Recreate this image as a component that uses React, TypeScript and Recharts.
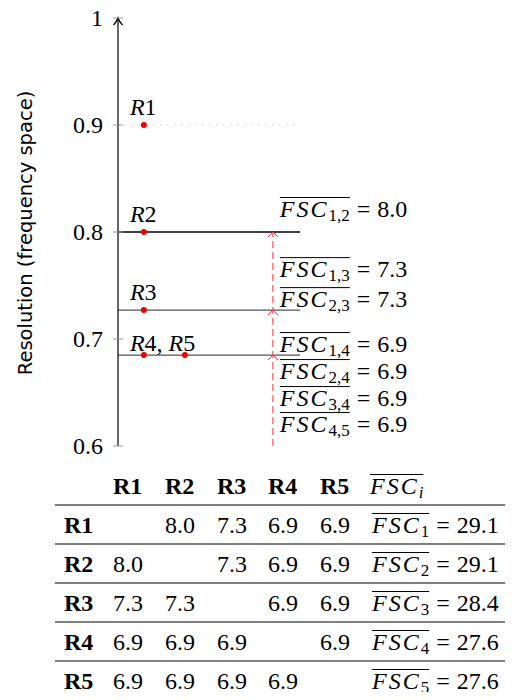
import React from 'react';
import { ComposedChart, XAxis, YAxis, Scatter, ReferenceLine } from 'recharts';

// ---------- data ----------
const resolutionNames = ['R1', 'R2', 'R3', 'R4', 'R5'];
const resolutionValues = [0.9, 0.8, 0.727, 0.685, 0.685];
const resolutionPositions = [1, 1, 1, 1, 2];
const pointLabels = ['R1', 'R2', 'R3', 'R4, R5', ''];
const yTicks = [0.6, 0.7, 0.8, 0.9, 1];
const levelValues = [0.8, 0.727, 0.685];
const pairGroups = [['1,2'], ['1,3', '2,3'], ['1,4', '2,4', '3,4', '4,5']];
const pairValues = [['8.0'], ['7.3', '7.3'], ['6.9', '6.9', '6.9', '6.9']];
const fscMatrix: (string | null)[][] = [
  [null, '8.0', '7.3', '6.9', '6.9'],
  ['8.0', null, '7.3', '6.9', '6.9'],
  ['7.3', '7.3', null, '6.9', '6.9'],
  ['6.9', '6.9', '6.9', null, '6.9'],
  ['6.9', '6.9', '6.9', '6.9', null],
];
const fscTotals = ['29.1', '29.1', '28.4', '27.6', '27.6'];

// ---------- layout ----------
const X_MIN = 0.37;
const X_MAX = 4.8;
const ARROW_X = 4.14;
const LABEL_X = 4.31;
const SERIF_NAME = 'Liberation Serif';
const SERIF = '"Liberation Serif", "DejaVu Serif", serif';
const SANS = '"DejaVu Sans", sans-serif';
const FS = 24;
const SUB = 17;
const FSC_SPACING = 2;
const pairDy = [[-15], [-33, -3], [-3, 24, 51, 77]];
const pointDy = [-10, -10, -10, -4, -10];
const levelStroke = ['#000', '#555', '#555'];
const levelWidth = [1.3, 1.2, 1.2];

let measureCtx: CanvasRenderingContext2D | null = null;
const measure = (text: string, font: string) => {
  if (!measureCtx) measureCtx = document.createElement('canvas').getContext('2d');
  if (!measureCtx) return text.length * 10;
  measureCtx.font = font;
  return measureCtx.measureText(text).width;
};

const pointData = resolutionNames.map((n, i) => ({
  name: n,
  x: resolutionPositions[i],
  y: resolutionValues[i],
  label: pointLabels[i],
  dy: pointDy[i],
}));
const chevronData = levelValues.map((v) => ({ x: ARROW_X, y: v }));
const pairData = levelValues.flatMap((v, g) =>
  pairGroups[g].map((p, k) => ({ x: LABEL_X, y: v, sub: p, value: pairValues[g][k], dy: pairDy[g][k] }))
);
const axisTop = [{ x: X_MIN, y: 1 }];

const FscText = ({ x, y, sub, value, italicSub = false }: any) => {
  const wMain = measure('FSC', `italic ${FS}px "${SERIF_NAME}"`) + 3 * FSC_SPACING;
  const wSub = measure(sub, `${italicSub ? 'italic ' : ''}${SUB}px "${SERIF_NAME}"`);
  const w = wMain + wSub;
  return (
    <g>
      <line x1={x} x2={x + w} y1={y - 19.5} y2={y - 19.5} stroke="#000" strokeWidth={1} />
      <text x={x} y={y} fontFamily={SERIF} fontSize={FS} fill="#000">
        <tspan fontStyle="italic" letterSpacing={FSC_SPACING}>FSC</tspan>
        <tspan fontSize={SUB} dy={4} fontStyle={italicSub ? 'italic' : 'normal'}>{sub}</tspan>
        {value !== undefined ? (
          <>
            <tspan dy={-4} dx={7}>=</tspan>
            <tspan dx={7}>{value}</tspan>
          </>
        ) : null}
      </text>
    </g>
  );
};

const MathLabel = ({ x, y, label }: any) => (
  <text x={x} y={y} fontFamily={SERIF} fontSize={FS} fill="#000">
    {label.split('').map((ch: string, i: number) => (
      <tspan key={i} fontStyle={/[A-Za-z]/.test(ch) ? 'italic' : 'normal'}>
        {ch}
      </tspan>
    ))}
  </text>
);

const YTick = (props: any) => {
  const { x, y, payload } = props;
  return (
    <g>
      <line x1={x + 10} x2={x + 20} y1={y} y2={y} stroke="#9a9a9a" strokeWidth={1} />
      <text x={x} y={y} dy="0.35em" textAnchor="end" fontFamily={SERIF} fontSize={FS} fill="#000">
        {String(payload.value)}
      </text>
    </g>
  );
};

const YTitle = () => (
  <text
    x={32}
    y={233}
    transform="rotate(-90, 32, 233)"
    textAnchor="middle"
    fontFamily={SANS}
    fontSize={19.5}
    fill="#000"
  >
    Resolution (frequency space)
  </text>
);

const PointShape = (props: any) => {
  const { cx, cy, payload } = props;
  return (
    <g>
      <circle cx={cx} cy={cy} r={3} fill="#ee0000" />
      {payload.label ? <MathLabel x={cx - 14} y={cy + payload.dy} label={payload.label} /> : null}
    </g>
  );
};

const ChevronShape = (props: any) => {
  const { cx, cy } = props;
  return (
    <path d={`M${cx - 5},${cy + 5} L${cx},${cy} L${cx + 5},${cy + 5}`} fill="none" stroke="#ff3333" strokeWidth={1} />
  );
};

const AxisArrow = (props: any) => {
  const { cx, cy } = props;
  return (
    <path
      d={`M${cx - 4.5},${cy + 7} Q${cx - 1},${cy + 3} ${cx},${cy} Q${cx + 1},${cy + 3} ${cx + 4.5},${cy + 7}`}
      fill="none"
      stroke="#000"
      strokeWidth={1.3}
    />
  );
};

const PairLabel = (props: any) => {
  const { cx, cy, payload } = props;
  return <FscText x={cx} y={cy + payload.dy} sub={payload.sub} value={payload.value} />;
};

const colX = [113, 165, 217, 268, 320];
const FSC_COL = 370;
const ROW_LABEL_X = 64;
const TABLE_TOP = 460;

const Table = () => {
  const t = (yy: number) => yy - TABLE_TOP;
  return (
    <svg width={513} height={240} style={{ position: 'absolute', left: 0, top: TABLE_TOP }}>
      {resolutionNames.map((n, i) => (
        <text key={n} x={colX[i]} y={t(494)} fontFamily={SERIF} fontWeight="bold" fontSize={FS}>
          {n}
        </text>
      ))}
      <FscText x={FSC_COL} y={t(494)} sub="i" italicSub />
      {resolutionNames.map((n, r) => (
        <g key={n}>
          <line x1={55} x2={513} y1={t(505 + 39 * r)} y2={t(505 + 39 * r)} stroke="#000" strokeWidth={1.2} />
          <text x={ROW_LABEL_X} y={t(533 + 39 * r)} fontFamily={SERIF} fontWeight="bold" fontSize={FS}>
            {n}
          </text>
          {fscMatrix[r].map((v, c) =>
            v === null ? null : (
              <text key={c} x={colX[c]} y={t(533 + 39 * r)} fontFamily={SERIF} fontSize={FS}>
                {v}
              </text>
            )
          )}
          <FscText x={FSC_COL + 2} y={t(533 + 39 * r)} sub={String(r + 1)} value={fscTotals[r]} />
        </g>
      ))}
    </svg>
  );
};

export default function App() {
  return (
    <div style={{ position: 'relative', margin: -8, width: 513, height: 700, background: '#fff' }}>
      <div style={{ position: 'absolute', left: 0, top: 0 }}>
        <ComposedChart width={513} height={470} margin={{ top: 18, right: 213, bottom: 24, left: 0 }}>
          <XAxis type="number" dataKey="x" domain={[X_MIN, X_MAX]} hide />
          <YAxis
            type="number"
            dataKey="y"
            domain={[0.6, 1]}
            ticks={yTicks}
            width={118}
            tickLine={false}
            tickSize={5}
            tickMargin={10}
            tick={<YTick />}
            axisLine={{ stroke: '#000', strokeWidth: 1.2 }}
            label={<YTitle />}
          />
          <ReferenceLine y={0.9} stroke="#c8c8c8" strokeDasharray="1.5 5.5" strokeWidth={1} />
          {levelValues.map((v, i) => (
            <ReferenceLine key={v} y={v} stroke={levelStroke[i]} strokeWidth={levelWidth[i]} />
          ))}
          <ReferenceLine
            segment={[
              { x: ARROW_X, y: 0.6 },
              { x: ARROW_X, y: levelValues[0] },
            ]}
            stroke="#ff3333"
            strokeDasharray="7 4"
            strokeWidth={1}
          />
          <Scatter data={axisTop} shape={<AxisArrow />} isAnimationActive={false} />
          <Scatter data={chevronData} shape={<ChevronShape />} isAnimationActive={false} />
          <Scatter data={pointData} shape={<PointShape />} isAnimationActive={false} />
          <Scatter data={pairData} shape={<PairLabel />} isAnimationActive={false} />
        </ComposedChart>
      </div>
      <Table />
    </div>
  );
}
